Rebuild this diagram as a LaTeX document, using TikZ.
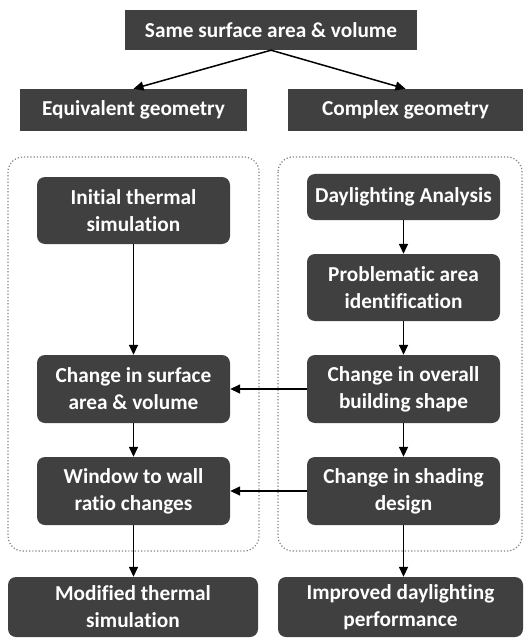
\documentclass[tikz,border=0pt]{standalone}
\usepackage{fontspec}
\setmainfont[Ligatures=NoCommon]{Carlito}
\usepackage{xcolor}
\usepackage{tikz}
\usetikzlibrary{arrows.meta}
\definecolor{boxgray}{HTML}{404040}

\begin{document}
\begin{tikzpicture}[x=1pt,y=-1pt,
  box/.style={fill=boxgray,text=white,font=\fontsize{21.3}{27}\selectfont\bfseries,align=center,inner sep=0pt},
  rbox/.style={box,rounded corners=8pt},
  group/.style={draw=gray,dotted,line width=1.2pt,rounded corners=15pt},
  flow/.style={line width=1.5pt,-{Triangle[length=10pt,width=9pt]}}]
\useasboundingbox (0,0) rectangle (525,639);
% containers
\draw[group] (8,157) rectangle (259,551);
\draw[group] (278,157) rectangle (522,551);
% top
\node[box,minimum width=292pt,minimum height=40pt] (same) at (271,30) {Same surface area \& volume};
\node[box,minimum width=227pt,minimum height=42pt] (equiv) at (133.5,110) {Equivalent geometry};
\node[box,minimum width=235pt,minimum height=42pt] (complex) at (405.5,110) {Complex geometry};
% left column
\node[rbox,minimum width=193pt,minimum height=67pt] (init) at (133.5,210.5) {Initial thermal\\simulation};
\node[rbox,minimum width=193pt,minimum height=68pt] (surf) at (133.5,389) {Change in surface\\area \& volume};
\node[rbox,minimum width=193pt,minimum height=68pt] (wwr) at (133.5,491) {Window to wall\\ratio changes};
\node[rbox,minimum width=250pt,minimum height=60pt] (modif) at (133,607) {Modified thermal\\simulation};
% right column
\node[rbox,minimum width=193pt,minimum height=46pt] (day) at (403.5,197) {Daylighting Analysis};
\node[rbox,minimum width=193pt,minimum height=67pt] (prob) at (403.5,287.5) {Problematic area\\identification};
\node[rbox,minimum width=193pt,minimum height=68pt] (shape) at (403.5,389) {Change in overall\\building shape};
\node[rbox,minimum width=193pt,minimum height=68pt] (shade) at (403.5,491) {Change in shading\\design};
\node[rbox,minimum width=245pt,minimum height=60pt] (impr) at (400.5,607) {Improved daylighting\\performance};
% arrows
\draw[flow] (same.south) -- (equiv.north);
\draw[flow] (same.south) -- (complex.north);
\draw[flow] (init) -- (surf);
\draw[flow] (surf) -- (wwr);
\draw[flow] (wwr.south) -- (wwr.south |- modif.north);
\draw[flow] (day) -- (prob);
\draw[flow] (prob) -- (shape);
\draw[flow] (shape) -- (shade);
\draw[flow] (shade.south) -- (shade.south |- impr.north);
\draw[flow] (shape) -- (surf);
\draw[flow] (shade) -- (wwr);
\end{tikzpicture}
\end{document}
